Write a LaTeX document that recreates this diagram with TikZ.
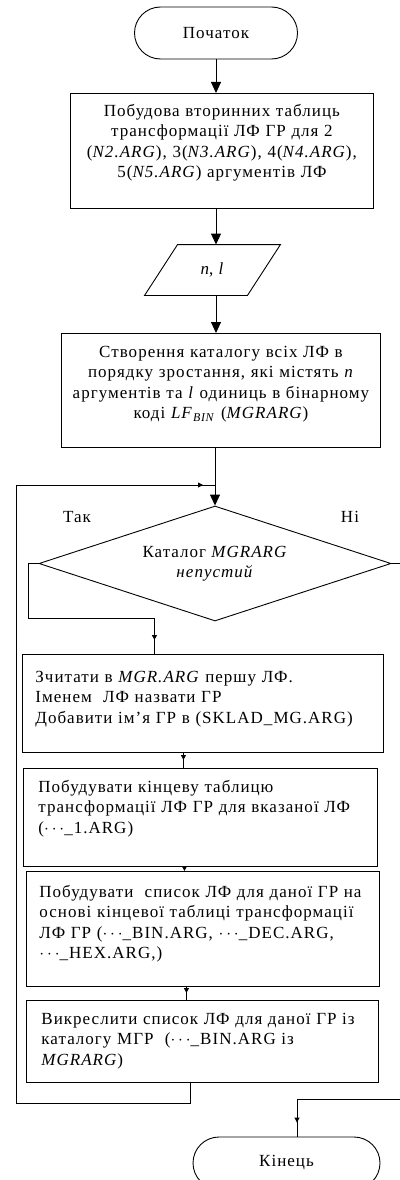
\documentclass[tikz,border=0pt]{standalone}
\usepackage{fontspec}
\setmainfont{Liberation Serif}[LetterSpace=6]
\usetikzlibrary{shapes.geometric,arrows.meta,decorations.markings}

\tikzset{
  term/.style={draw, rectangle, rounded corners=26pt, minimum height=52pt},
  block/.style={draw, rectangle, inner ysep=0pt},
  io/.style={rectangle, minimum width=69pt, minimum height=50pt},
  cond/.style={draw, diamond, aspect=3, inner sep=0pt, minimum width=352pt, minimum height=115pt,
    align=center},
  link/.style={-{Triangle[length=11pt,width=10pt]}},
  smalltip/.style={-{Triangle[length=5pt,width=5pt]}},
  midtip/.style={postaction={decorate}, decoration={markings,
    mark=at position #1 with {\arrow{Triangle[length=5pt,width=5pt]}}}},
}

\begin{document}
\begin{tikzpicture}[x=1pt,y=-1pt,line width=0.9pt,font=\fontsize{17}{20.5}\selectfont]
  \useasboundingbox (0,0) rectangle (399,1180);

  \node[term, minimum width=163pt] (start) at (216,33) {Початок};
  \node[block, anchor=north west, inner xsep=6pt, text width=291pt, align=center,
    text height=23pt, text depth=92pt] (build) at (70,93)
    {Побудова вторинних таблиць\\
     трансформації ЛФ ГР для 2\\
     (\textit{N2.ARG}), 3(\textit{N3.ARG}), 4(\textit{N4.ARG}),\\
     5(\textit{N5.ARG}) аргументів ЛФ};
  \node[io] (data) at (212.5,270) {\textit{n}, \textit{l}};
  \draw ([xshift=-33pt]data.south west) -- (data.north west)
    -- ([xshift=33pt]data.north east) -- (data.south east) -- cycle;
  \node[block, anchor=north west, inner xsep=6pt, text width=307pt, align=center,
    text height=24pt, text depth=90pt] (list) at (61,333)
    {Створення каталогу всіх ЛФ в\\
     порядку зростання, які містять \textit{n}\\
     аргументів та \textit{l} одиниць в бінарному\\
     коді \textit{LF}\textsubscript{\textit{BIN}} (\textit{MGRARG})};

  \coordinate (back) at (16,485);
  \node[cond] (check) at (215,563.5) {Каталог \textit{MGRARG}\\\textit{непустий}};
  \node (yes) at (77,517) {Так};
  \node (no) at (350,517) {Ні};

  \node[block, anchor=north west, inner xsep=13pt, text width=335pt, align=left,
    text height=28pt, text depth=70pt] (read) at (22,654)
    {Зчитати в \textit{MGR.ARG} першу ЛФ.\\
     Іменем\ \ ЛФ назвати ГР\\
     Добавити ім’я ГР в (SKLAD\_MG.ARG)};
  \node[block, anchor=north west, inner xsep=15pt, text width=324pt, align=left,
    text height=24pt, text depth=74pt] (table) at (23,768)
    {Побудувати кінцеву таблицю\\
     трансформації ЛФ ГР для вказаної ЛФ\\
     ($\cdots$\_1.ARG)};
  \node[block, anchor=north west, inner xsep=13pt, text width=327pt, align=left,
    text height=26pt, text depth=89pt] (fill) at (26,871)
    {Побудувати\ \ список ЛФ для даної ГР на\\
     основі кінцевої таблиці трансформації\\
     ЛФ ГР ($\cdots$\_BIN.ARG, $\cdots$\_DEC.ARG,\\
     $\cdots$\_HEX.ARG,)};
  \node[block, anchor=north west, inner xsep=15pt, text width=322pt, align=left,
    text height=24pt, text depth=58pt] (remove) at (26,1000)
    {Викреслити список ЛФ для даної ГР із\\
     каталогу МГР\ \ ($\cdots$\_BIN.ARG із\\
     \textit{MGRARG})};

  \coordinate (side) at (405,1099);
  \node[term, minimum width=187pt] (finish) at (286.5,1163) {Кінець};

  % main line
  \draw[link] (start.south) -- (start.south |- build.north);
  \draw[link] (build.south -| start) -- (data.north -| start);
  \draw[link] (data.south -| start) -- (start |- list.north);
  \draw[link] (list.south -| check) -- (check.north);

  % loop body
  \draw[midtip=-14pt] (check.west) -- ++(-10,0) -- ++(0,55) -| ([xshift=-48.5pt]read.north);
  \draw[midtip=-8pt] ([xshift=-19.5pt]read.south) -- ([xshift=-19.5pt]read.south |- table.north);
  \draw[smalltip] ([xshift=-16pt]table.south) -- ([xshift=-16pt]table.south |- fill.north);
  \draw[midtip=-7pt] ([xshift=-16.5pt]fill.south) -- ([xshift=-16.5pt]fill.south |- remove.north);
  \draw[midtip=-12pt] ([xshift=-12pt]remove.south) -- ++(0,21) -| (back) -- (back -| check.north);

  % exit
  \draw[midtip=-14pt] (check.east) -| (side) -| ([xshift=10.5pt]finish.north);
\end{tikzpicture}
\end{document}
